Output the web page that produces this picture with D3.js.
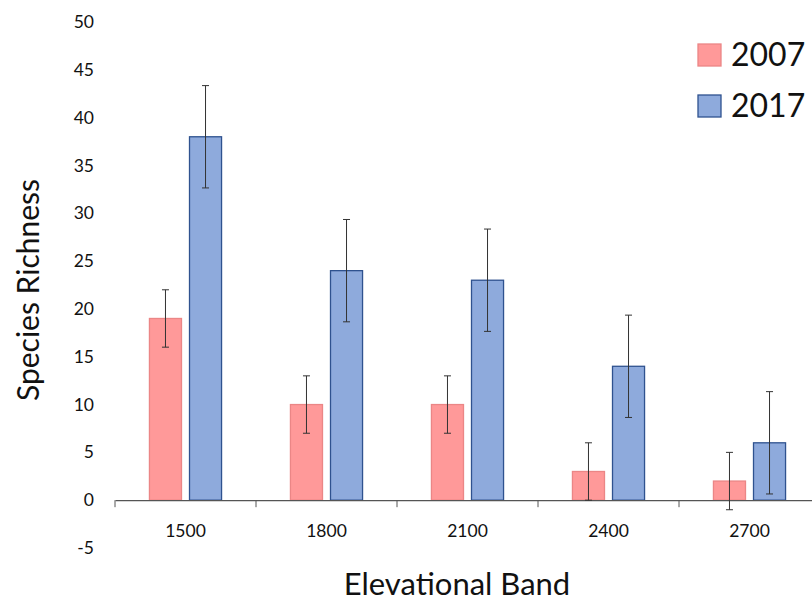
<!DOCTYPE html>
<html>
<head>
<meta charset="utf-8">
<script src="https://cdn.jsdelivr.net/npm/d3@7"></script>
<style>
  body { margin: 0; background: #fff; }
  text { font-family: Lato, "Open Sans", sans-serif; fill: #111; }
</style>
</head>
<body>
<script>
// chart data
const bands = ["1500", "1800", "2100", "2400", "2700"];
const years = ["2007", "2017"];
const richness2007 = [19, 10, 10, 3, 2];
const richness2017 = [38, 24, 23, 14, 6];
const err2007 = [3, 3, 3, 3, 3];
const err2017 = [5.35, 5.35, 5.35, 5.35, 5.35];
const yTicks = [-5, 0, 5, 10, 15, 20, 25, 30, 35, 40, 45, 50];

const width = 812, height = 601;
const fills = { "2007": "#ff9999", "2017": "#8eaadc" };
const strokes = { "2007": "#eb8686", "2017": "#2f528f" };

const svg = d3.select("body").append("svg")
    .attr("width", width)
    .attr("height", height);

const x = d3.scaleBand().domain(bands).range([115, 820]);
const y = d3.scaleLinear().domain([-5, 50]).range([548, 22]);

const inner = d3.scaleBand().domain(years)
    .range([0, x.bandwidth()])
    .paddingInner(0.2)
    .paddingOuter(0.86);

// y tick labels (no axis line)
svg.append("g")
  .selectAll("text")
  .data(yTicks)
  .join("text")
    .attr("x", 94)
    .attr("y", d => y(d))
    .attr("dy", "0.35em")
    .attr("text-anchor", "end")
    .attr("font-size", 17.5)
    .text(d => d);

const rows = bands.map((b, i) => [
  { band: b, year: "2007", v: richness2007[i], e: err2007[i] },
  { band: b, year: "2017", v: richness2017[i], e: err2017[i] }
]).flat();

// bars
svg.append("g")
  .selectAll("rect")
  .data(rows)
  .join("rect")
    .attr("x", d => x(d.band) + inner(d.year))
    .attr("y", d => y(d.v))
    .attr("width", inner.bandwidth())
    .attr("height", d => y(0) - y(d.v))
    .attr("fill", d => fills[d.year])
    .attr("stroke", d => strokes[d.year])
    .attr("stroke-width", 1.3);

// x axis
const xAxis = d3.axisBottom(x)
    .tickValues([])
    .tickSizeOuter(0);
const gx = svg.append("g")
    .attr("transform", `translate(0,${y(0)})`)
    .call(xAxis);
gx.select(".domain").attr("stroke", "#555").attr("stroke-width", 1.2);

// band boundary ticks
gx.selectAll("line.sep")
  .data(bands.concat(["end"]))
  .join("line")
    .attr("class", "sep")
    .attr("x1", (d, i) => 115 + i * x.step())
    .attr("x2", (d, i) => 115 + i * x.step())
    .attr("y1", 0).attr("y2", 7)
    .attr("stroke", "#555");

// category labels
svg.append("g")
  .selectAll("text")
  .data(bands)
  .join("text")
    .attr("x", d => x(d) + x.bandwidth() / 2)
    .attr("y", 531)
    .attr("dy", "0.35em")
    .attr("text-anchor", "middle")
    .attr("font-size", 17.5)
    .text(d => d);

// error bars
const eb = svg.append("g").attr("stroke", "#333").attr("stroke-width", 1);
rows.forEach(d => {
  const cx = x(d.band) + inner(d.year) + inner.bandwidth() / 2;
  const y1 = y(d.v + d.e), y2 = y(d.v - d.e);
  eb.append("line").attr("x1", cx).attr("x2", cx).attr("y1", y1).attr("y2", y2);
  eb.append("line").attr("x1", cx - 3.5).attr("x2", cx + 3.5).attr("y1", y1).attr("y2", y1);
  eb.append("line").attr("x1", cx - 3.5).attr("x2", cx + 3.5).attr("y1", y2).attr("y2", y2);
});

// axis titles
svg.append("text")
    .attr("transform", "translate(39,290) rotate(-90)")
    .attr("text-anchor", "middle")
    .attr("font-size", 30)
    .text("Species Richness");

svg.append("text")
    .attr("x", 457)
    .attr("y", 595)
    .attr("text-anchor", "middle")
    .attr("font-size", 31)
    .text("Elevational Band");

// legend
const legend = svg.append("g")
  .selectAll("g")
  .data(years)
  .join("g")
    .attr("transform", (d, i) => `translate(698,${44 + i * 51})`);
legend.append("rect")
    .attr("width", 23).attr("height", 22)
    .attr("fill", d => fills[d])
    .attr("stroke", d => strokes[d])
    .attr("stroke-width", 1.3);
legend.append("text")
    .attr("x", 33)
    .attr("y", 22)
    .attr("font-size", 32)
    .text(d => d);
</script>
</body>
</html>
